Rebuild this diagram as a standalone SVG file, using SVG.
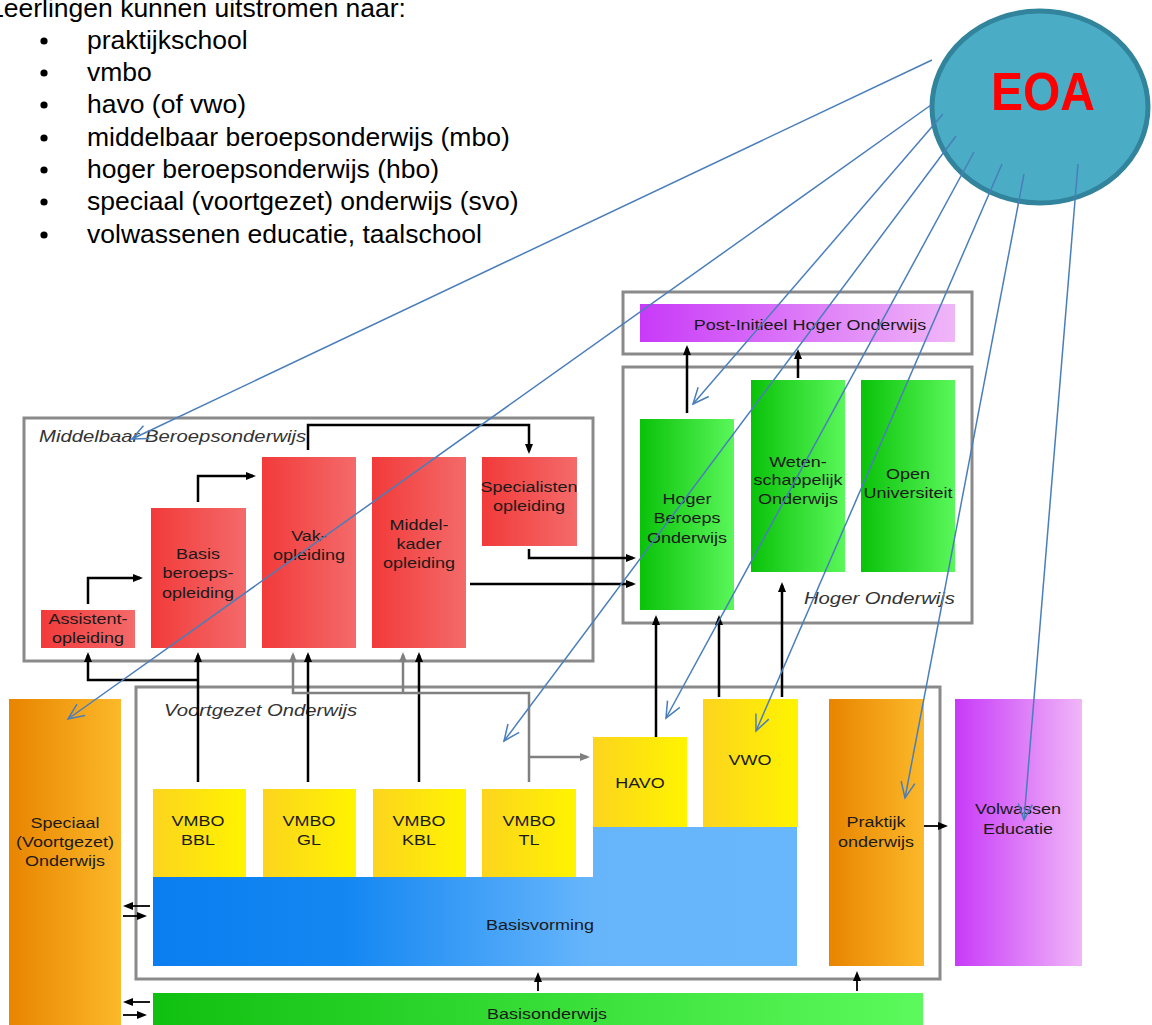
<svg xmlns="http://www.w3.org/2000/svg" width="1152" height="1025" viewBox="0 0 1152 1025">
<defs>
  <linearGradient id="gRed" x1="0" y1="0" x2="1" y2="0"><stop offset="0" stop-color="#f23a3a"/><stop offset="1" stop-color="#f46a6a"/></linearGradient>
  <linearGradient id="gGreen" x1="0" y1="0" x2="1" y2="0"><stop offset="0" stop-color="#0ac20a"/><stop offset="1" stop-color="#5af75a"/></linearGradient>
  <linearGradient id="gYellow" x1="0" y1="0" x2="1" y2="0"><stop offset="0" stop-color="#fcd41e"/><stop offset="1" stop-color="#fff400"/></linearGradient>
  <linearGradient id="gOrange" x1="0" y1="0" x2="1" y2="0"><stop offset="0" stop-color="#e88400"/><stop offset="1" stop-color="#fcb92a"/></linearGradient>
  <linearGradient id="gPurple" x1="0" y1="0" x2="1" y2="0"><stop offset="0" stop-color="#c83af8"/><stop offset="1" stop-color="#f0b6f8"/></linearGradient>
  <linearGradient id="gBlue" gradientUnits="userSpaceOnUse" x1="153" y1="0" x2="797" y2="0"><stop offset="0" stop-color="#0a7ef0"/><stop offset="0.3" stop-color="#1487f2"/><stop offset="0.68" stop-color="#66b5fb"/><stop offset="1" stop-color="#68b7fb"/></linearGradient>
  <linearGradient id="gGreenB" x1="0" y1="0" x2="1" y2="0"><stop offset="0" stop-color="#10c010"/><stop offset="1" stop-color="#5cfa5c"/></linearGradient>
  <marker id="ah" viewBox="0 0 10 8" refX="7" refY="4" markerWidth="10" markerHeight="8" markerUnits="userSpaceOnUse" orient="auto"><path d="M0,0 L10,4 L0,8 Z" fill="#000"/></marker>
  <marker id="ahg" viewBox="0 0 10 8" refX="7" refY="4" markerWidth="10" markerHeight="8" markerUnits="userSpaceOnUse" orient="auto"><path d="M0,0 L10,4 L0,8 Z" fill="#808080"/></marker>
  <marker id="oa" viewBox="0 0 20 20" refX="18" refY="10" markerWidth="20" markerHeight="20" markerUnits="userSpaceOnUse" orient="auto"><path d="M2,3 L18,10 L2,17" fill="none" stroke="#4a7ebb" stroke-width="1.5"/></marker>
</defs>
<style>
  .box{fill:none;stroke:#8a8a8a;stroke-width:3}
  .t{font-family:"Liberation Sans",Arial,sans-serif;font-size:15.5px;fill:#1a1a1a;text-anchor:middle}
  .lbl{font-family:"Liberation Sans",Arial,sans-serif;font-size:16.5px;font-style:italic;fill:#333}
  .lst{font-family:"Liberation Sans",Arial,sans-serif;font-size:26.5px;fill:#000}
  .c{fill:none;stroke:#000;stroke-width:2.5;marker-end:url(#ah)}
  .cg{fill:none;stroke:#808080;stroke-width:2.5;marker-end:url(#ahg)}
  .cs{fill:none;stroke:#000;stroke-width:1.8;marker-end:url(#ah)}
  .eoa{fill:none;stroke:#4a7ebb;stroke-width:1.5;marker-end:url(#oa)}
</style>
<rect width="1152" height="1025" fill="#fff"/>

<g id="intro">
  <text class="lst" x="-11" y="17">Leerlingen kunnen uitstromen naar:</text>
  <g fill="#000">
    <circle cx="44" cy="41" r="3.6"/><circle cx="44" cy="73" r="3.6"/><circle cx="44" cy="105" r="3.6"/><circle cx="44" cy="138" r="3.6"/><circle cx="44" cy="170" r="3.6"/><circle cx="44" cy="202" r="3.6"/><circle cx="44" cy="235" r="3.6"/>
  </g>
  <text class="lst" x="87" y="49">praktijkschool</text>
  <text class="lst" x="87" y="81">vmbo</text>
  <text class="lst" x="87" y="113">havo (of vwo)</text>
  <text class="lst" x="87" y="146">middelbaar beroepsonderwijs (mbo)</text>
  <text class="lst" x="87" y="178">hoger beroepsonderwijs (hbo)</text>
  <text class="lst" x="87" y="210">speciaal (voortgezet) onderwijs (svo)</text>
  <text class="lst" x="87" y="243">volwassenen educatie, taalschool</text>
</g>

<g id="containers">
  <rect class="box" x="24" y="418" width="569" height="243"/>
  <text class="lbl" transform="translate(39,442) scale(1.23,1)">Middelbaar Beroepsonderwijs</text>
  <rect class="box" x="623" y="292" width="349" height="62"/>
  <rect class="box" x="623" y="367" width="349" height="256"/>
  <text class="lbl" text-anchor="end" transform="translate(955,604) scale(1.23,1)">Hoger Onderwijs</text>
  <rect class="box" x="136" y="687" width="804" height="292"/>
  <text class="lbl" transform="translate(164,716) scale(1.23,1)">Voortgezet Onderwijs</text>
</g>

<g id="assistent"><rect x="41" y="610" width="94" height="38" fill="url(#gRed)"/>
  <text class="t" transform="translate(88,624) scale(1.16,1)"><tspan x="0">Assistent-</tspan><tspan x="0" dy="19">opleiding</tspan></text></g>
<g id="basisberoeps"><rect x="151" y="508" width="95" height="140" fill="url(#gRed)"/>
  <text class="t" transform="translate(198,559) scale(1.16,1)"><tspan x="0">Basis</tspan><tspan x="0" dy="19.5">beroeps-</tspan><tspan x="0" dy="19.5">opleiding</tspan></text></g>
<g id="vakopleiding"><rect x="262" y="457" width="94" height="191" fill="url(#gRed)"/>
  <text class="t" transform="translate(309,541) scale(1.16,1)"><tspan x="0">Vak-</tspan><tspan x="0" dy="19">opleiding</tspan></text></g>
<g id="middelkader"><rect x="372" y="457" width="94" height="191" fill="url(#gRed)"/>
  <text class="t" transform="translate(419,530) scale(1.16,1)"><tspan x="0">Middel-</tspan><tspan x="0" dy="19">kader</tspan><tspan x="0" dy="19">opleiding</tspan></text></g>
<g id="specialisten"><rect x="482" y="457" width="95" height="89" fill="url(#gRed)"/>
  <text class="t" transform="translate(529,492) scale(1.16,1)"><tspan x="0">Specialisten</tspan><tspan x="0" dy="19">opleiding</tspan></text></g>

<g id="postinitieel"><rect x="640" y="304" width="315" height="38" fill="url(#gPurple)"/>
  <text class="t" transform="translate(810,330) scale(1.16,1)">Post-Initieel Hoger Onderwijs</text></g>
<g id="hbo"><rect x="640" y="419" width="94" height="191" fill="url(#gGreen)"/>
  <text class="t" transform="translate(687,504) scale(1.16,1)"><tspan x="0">Hoger</tspan><tspan x="0" dy="19.5">Beroeps</tspan><tspan x="0" dy="19.5">Onderwijs</tspan></text></g>
<g id="wo"><rect x="751" y="380" width="94" height="192" fill="url(#gGreen)"/>
  <text class="t" transform="translate(798,467) scale(1.16,1)"><tspan x="0">Weten-</tspan><tspan x="0" dy="18.5">schappelijk</tspan><tspan x="0" dy="18.5">Onderwijs</tspan></text></g>
<g id="ou"><rect x="861" y="380" width="94" height="192" fill="url(#gGreen)"/>
  <text class="t" transform="translate(908,479) scale(1.16,1)"><tspan x="0">Open</tspan><tspan x="0" dy="19">Universiteit</tspan></text></g>

<g id="speciaal"><rect x="9" y="699" width="112" height="330" fill="url(#gOrange)"/>
  <text class="t" transform="translate(65,828) scale(1.16,1)"><tspan x="0">Speciaal</tspan><tspan x="0" dy="19">(Voortgezet)</tspan><tspan x="0" dy="19">Onderwijs</tspan></text></g>
<g id="basisvorming"><path d="M153,877 H593 V827 H797 V966 H153 Z" fill="url(#gBlue)"/>
  <text class="t" transform="translate(540,930) scale(1.16,1)">Basisvorming</text></g>
<g id="vmbobbl"><rect x="153" y="789" width="93" height="88" fill="url(#gYellow)"/>
  <text class="t" transform="translate(198,826) scale(1.16,1)"><tspan x="0">VMBO</tspan><tspan x="0" dy="19">BBL</tspan></text></g>
<g id="vmbogl"><rect x="263" y="789" width="93" height="88" fill="url(#gYellow)"/>
  <text class="t" transform="translate(309,826) scale(1.16,1)"><tspan x="0">VMBO</tspan><tspan x="0" dy="19">GL</tspan></text></g>
<g id="vmbokbl"><rect x="373" y="789" width="93" height="88" fill="url(#gYellow)"/>
  <text class="t" transform="translate(419,826) scale(1.16,1)"><tspan x="0">VMBO</tspan><tspan x="0" dy="19">KBL</tspan></text></g>
<g id="vmbotl"><rect x="482" y="789" width="94" height="88" fill="url(#gYellow)"/>
  <text class="t" transform="translate(529,826) scale(1.16,1)"><tspan x="0">VMBO</tspan><tspan x="0" dy="19">TL</tspan></text></g>
<g id="havo"><rect x="593" y="737" width="94" height="90" fill="url(#gYellow)"/>
  <text class="t" transform="translate(640,788) scale(1.16,1)">HAVO</text></g>
<g id="vwo"><rect x="703" y="699" width="95" height="128" fill="url(#gYellow)"/>
  <text class="t" transform="translate(750,765) scale(1.16,1)">VWO</text></g>
<g id="praktijk"><rect x="829" y="699" width="95" height="267" fill="url(#gOrange)"/>
  <text class="t" transform="translate(876,827) scale(1.16,1)"><tspan x="0">Praktijk</tspan><tspan x="0" dy="20">onderwijs</tspan></text></g>
<g id="volwassen"><rect x="955" y="699" width="127" height="267" fill="url(#gPurple)"/>
  <text class="t" transform="translate(1018,814) scale(1.16,1)"><tspan x="0">Volwassen</tspan><tspan x="0" dy="20">Educatie</tspan></text></g>
<g id="basisonderwijs"><rect x="153" y="993" width="770" height="36" fill="url(#gGreenB)"/>
  <text class="t" transform="translate(547,1019) scale(1.16,1)">Basisonderwijs</text></g>

<g id="eoa"><ellipse cx="1040" cy="107" rx="108" ry="96" fill="#4bacc6" stroke="#31849b" stroke-width="5"/>
  <text x="1043" y="110" font-family="'Liberation Sans',Arial,sans-serif" font-weight="bold" font-size="53" fill="#ff0000" text-anchor="middle" textLength="104" lengthAdjust="spacingAndGlyphs">EOA</text></g>

<g id="connectors">
  <path class="c" d="M88,604 V578 H140"/>
  <path class="c" d="M198,502 V476 H253"/>
  <path class="c" d="M308,450 V425 H529 V451"/>
  <path class="c" d="M529,549 V558 H633"/>
  <path class="c" d="M470,584 H633"/>
  <path class="c" d="M198,782 V655"/>
  <path class="c" d="M198,680 H88 V655"/>
  <path class="c" d="M308,782 V655"/>
  <path class="c" d="M419,782 V655"/>
  <path class="cg" d="M529,782 V693 H293 V655"/>
  <path class="cg" d="M403,693 V655"/>
  <path class="cg" d="M529,757 H587"/>
  <path class="c" d="M656,737 V618"/>
  <path class="c" d="M719,697 V618"/>
  <path class="c" d="M782,697 V585"/>
  <path class="c" d="M687,413 V348"/>
  <path class="c" d="M798,378 V352"/>
  <path class="cs" d="M924,826 H945"/>
  <path class="cs" d="M538,991 V975"/>
  <path class="cs" d="M857,991 V974"/>
  <path class="cs" d="M150,906 H126"/>
  <path class="cs" d="M123,916 H144"/>
  <path class="cs" d="M150,1002 H126"/>
  <path class="cs" d="M123,1015 H144"/>
</g>

<g id="eoa-links">
  <path class="eoa" d="M932,60 L132,439"/>
  <path class="eoa" d="M931,105 L68,719"/>
  <path class="eoa" d="M943,114 L693,404"/>
  <path class="eoa" d="M956,136 L504,741"/>
  <path class="eoa" d="M974,152 L666,718"/>
  <path class="eoa" d="M1002,164 L756,731"/>
  <path class="eoa" d="M1024,174 L905,798"/>
  <path class="eoa" d="M1078,164 L1024,820"/>
</g>
</svg>
